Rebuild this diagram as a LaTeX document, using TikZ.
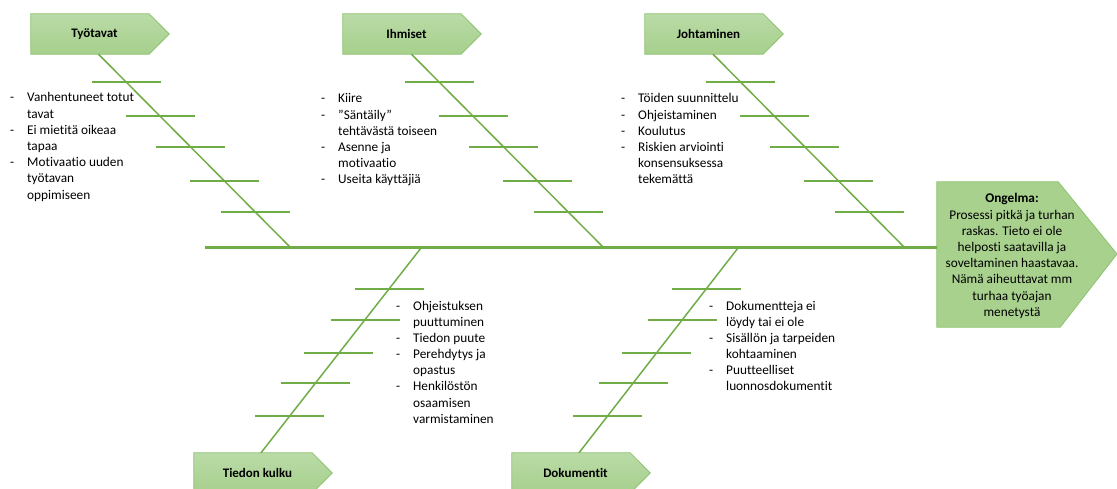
\documentclass[tikz,border=0pt]{standalone}
\usepackage{fontspec}
\setmainfont{Carlito}[Ligatures=NoCommon]
\usetikzlibrary{calc,backgrounds}

\definecolor{bone}{HTML}{70AD47}
\definecolor{boxtop}{HTML}{BADBA7}
\definecolor{boxbot}{HTML}{A6CF8C}
\definecolor{boxline}{HTML}{8CC26E}
\definecolor{headfill}{HTML}{A9D18E}

\tikzset{
  catbox/.style={rectangle, minimum width=118pt, minimum height=40pt, inner sep=0pt,
                 font=\fontsize{13}{16}\selectfont\bfseries},
  spine/.style={draw=bone, line width=3pt},
  branch/.style={draw=bone, line width=1.5pt},
  rib/.style={draw=bone, line width=2pt},
  tagfill/.style={top color=boxtop, bottom color=boxbot, draw=boxline, line width=0.8pt},
  headshape/.style={fill=headfill, draw=boxline, line width=0.8pt},
  causes/.style={anchor=base west, inner sep=0pt, font=\fontsize{13.3}{16.2}\selectfont},
}

% arrow-shaped label: rectangle body plus a 20pt point on the right
\newcommand\tagshape[1]{%
  \path[tagfill] (#1.north west) -- (#1.north east) -- ($(#1.east)+(20pt,0)$)
    -- (#1.south east) -- (#1.south west) -- cycle;}
% dash list: dash column, then the item text
\newcommand\causelist[1]{\begin{tabular}[t]{@{}p{17pt}@{}l@{}}#1\end{tabular}}

\begin{document}
\begin{tikzpicture}[x=1pt,y=-1pt]
\useasboundingbox (0,0) rectangle (1117,489);

% category labels
\node[catbox] (tyo) at (90,34)  {\hspace*{9pt}Työtavat};
\node[catbox] (ihm) at (402,34) {\hspace*{9pt}Ihmiset};
\node[catbox] (joh) at (704,34) {\hspace*{9pt}Johtaminen};
\node[catbox] (kul) at (253,473) {\hspace*{9pt}Tiedon kulku};
\node[catbox] (dok) at (571,473) {\hspace*{9pt}Dokumentit};

% problem head
\node[rectangle, minimum width=121pt, minimum height=145pt, inner sep=0pt] (prob) at (997.5,254.5) {};
\node[align=center, anchor=center, inner sep=0pt, font=\fontsize{13.3}{16.2}\selectfont] (probtext) at (1012,256)
  {\textbf{Ongelma:}\\Prosessi pitkä ja turhan\\raskas. Tieto ei ole\\helposti saatavilla ja\\soveltaminen haastavaa.\\Nämä aiheuttavat mm\\turhaa työajan\\menetystä};

\begin{scope}[on background layer]
  \tagshape{tyo}\tagshape{ihm}\tagshape{joh}\tagshape{kul}\tagshape{dok}
  \path[headshape] (prob.north west) -- (prob.north east) -- (1117,254)
    -- ($(prob.south east)+(2pt,0)$) -- (prob.south west) -- cycle;
\end{scope}

% main spine
\coordinate (tail) at (205,248);
\draw[spine] (tail) -- (tail -| prob.west);

% branch junctions on the spine and their ends at the labels
\coordinate (jT) at (291,248);
\coordinate (jI) at (604,248);
\coordinate (jJ) at (905,248);
\coordinate (jK) at (421,248);
\coordinate (jD) at (738,248);
\coordinate (eT) at ($(tyo.south)+(8.5pt,0)$);
\coordinate (eI) at ($(ihm.south)+(9.5pt,0)$);
\coordinate (eJ) at ($(joh.south)+(9pt,0)$);
\coordinate (eK) at ($(kul.north)+(8pt,0)$);
\coordinate (eD) at ($(dok.north)+(8pt,0)$);

\foreach \e/\j in {eT/jT, eI/jI, eJ/jJ, eK/jK, eD/jD}
  \draw[branch] (\e) -- (\j);

% ribs across the upper branches
\foreach \e/\j in {eT/jT, eI/jI, eJ/jJ}
  \foreach \f in {0.144,0.320,0.479,0.655,0.814}
    \draw[rib] ($(\e)!\f!(\j)$) +(-34.5pt,0) -- +(34.5pt,0);
% ribs across the lower branches
\foreach \e/\j in {eK/jK, eD/jD}
  \foreach \f in {0.199,0.350,0.515,0.660,0.820}
    \draw[rib] ($(\j)!\f!(\e)$) +(-34.5pt,0) -- +(34.5pt,0);

% causes
\node[causes] (cT) at (10,102) {\causelist{%
  - & Vanhentuneet totut\\ & tavat\\
  - & Ei mietitä oikeaa\\ & tapaa\\
  - & Motivaatio uuden\\ & työtavan\\ & oppimiseen}};
\node[causes] (cI) at (321,103) {\causelist{%
  - & Kiire\\
  - & ”Säntäily”\\ & tehtävästä toiseen\\
  - & Asenne ja\\ & motivaatio\\
  - & Useita käyttäjiä}};
\node[causes] (cJ) at (621,103) {\causelist{%
  - & Töiden suunnittelu\\
  - & Ohjeistaminen\\
  - & Koulutus\\
  - & Riskien arviointi\\ & konsensuksessa\\ & tekemättä}};
\node[causes] (cK) at (396,310) {\causelist{%
  - & Ohjeistuksen\\ & puuttuminen\\
  - & Tiedon puute\\
  - & Perehdytys ja\\ & opastus\\
  - & Henkilöstön\\ & osaamisen\\ & varmistaminen}};
\node[causes] (cD) at (709,310) {\causelist{%
  - & Dokumentteja ei\\ & löydy tai ei ole\\
  - & Sisällön ja tarpeiden\\ & kohtaaminen\\
  - & Puutteelliset\\ & luonnosdokumentit}};
\end{tikzpicture}
\end{document}
